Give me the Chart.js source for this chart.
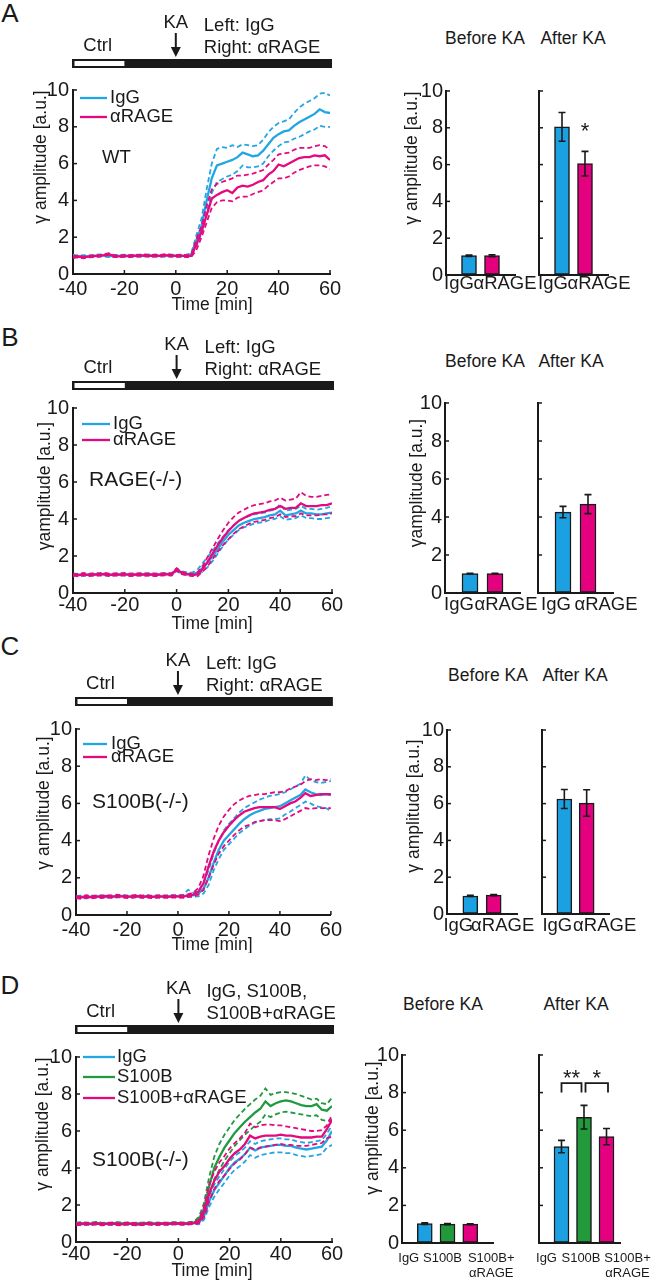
<!DOCTYPE html>
<html><head><meta charset="utf-8">
<script src="https://cdn.jsdelivr.net/npm/chart.js@4.4.1/dist/chart.umd.min.js"></script>
<style>
html,body{margin:0;padding:0;background:#fff;}
body{width:656px;height:1280px;position:relative;overflow:hidden;font-family:"Liberation Sans",Arial,Helvetica,sans-serif;color:#1a1a1a;}
canvas{position:absolute;}
.t{position:absolute;transform:translate(-50%,-50%);white-space:nowrap;line-height:1;}
.L{font-size:26px;}
.h{font-size:17.5px;}
</style></head><body>
<div class="t L" style="left:10px;top:13px">A</div>
<div class="t L" style="left:10px;top:337px">B</div>
<div class="t L" style="left:10px;top:646px">C</div>
<div class="t L" style="left:10px;top:985px">D</div>
<div class="t h" style="left:485px;top:39px">Before KA</div>
<div class="t h" style="left:573px;top:39px">After KA</div>
<div class="t h" style="left:485px;top:362px">Before KA</div>
<div class="t h" style="left:571px;top:362px">After KA</div>
<div class="t h" style="left:488px;top:676px">Before KA</div>
<div class="t h" style="left:575px;top:676px">After KA</div>
<div class="t h" style="left:443px;top:1005px">Before KA</div>
<div class="t h" style="left:576px;top:1005px">After KA</div>
<script>
// ---------- shared axes / timeline ----------
const timeMin = [-40,-38,-36,-34,-32,-30,-28,-26,-24,-22,-20,-18,-16,-14,-12,-10,-8,-6,-4,-2,0,2,4,6,8,10,12,14,16,18,20,22,24,26,28,30,32,34,36,38,40,42,44,46,48,50,52,54,56,58,60];
const timeTicks = [-40,-20,0,20,40,60];
const ampTicks = [0,2,4,6,8,10];
const ctrlWindow = [-40,-20];
const kaTime = 0;
const recordEnd = 60;

// ---------- Panel A (WT) ----------
const A_IgG_mean = [1.00,0.95,0.97,0.96,0.98,1.02,1.00,0.97,0.98,0.99,1.00,0.98,0.99,1.00,0.99,1.01,1.00,0.98,1.00,1.00,1.00,0.98,1.00,1.05,
  1.8,2.6,4.0,5.2,5.9,6.0,6.1,6.2,6.35,6.6,6.5,6.4,6.45,6.7,7.05,7.4,7.6,7.75,7.8,8.05,8.25,8.4,8.55,8.7,8.95,8.8,8.75];
const A_IgG_upper = [1.05,1.00,1.02,1.01,1.03,1.07,1.05,1.02,1.03,1.04,1.05,1.03,1.04,1.05,1.04,1.06,1.05,1.03,1.05,1.05,1.05,1.03,1.05,1.12,
  2.1,3.0,4.6,6.0,6.8,6.9,6.85,7.0,6.9,7.05,7.0,6.95,7.0,7.3,7.7,8.0,8.2,8.3,8.4,8.75,9.05,9.25,9.4,9.55,9.8,9.85,9.7];
const A_IgG_lower = [0.95,0.90,0.92,0.91,0.93,0.97,0.95,0.92,0.93,0.94,0.95,0.93,0.94,0.95,0.94,0.96,0.95,0.93,0.95,0.95,0.95,0.93,0.95,0.98,
  1.5,2.2,3.4,4.4,5.0,5.15,5.3,5.4,5.6,5.9,5.8,5.8,5.85,6.0,6.4,6.7,6.95,7.15,7.2,7.35,7.45,7.6,7.75,7.85,8.05,8.0,8.0];
const A_aRAGE_mean = [0.92,0.95,0.90,0.95,0.97,0.98,1.02,1.08,0.97,0.96,0.98,0.97,1.00,0.99,1.02,0.98,1.00,0.99,1.03,1.00,0.98,1.00,0.97,0.98,
  1.6,2.3,3.2,4.1,4.3,4.45,4.55,4.4,4.7,4.8,4.75,4.85,5.0,5.1,5.4,5.6,5.95,5.85,6.0,6.15,6.3,6.35,6.35,6.45,6.4,6.45,6.2];
const A_aRAGE_upper = [0.97,1.00,0.95,1.00,1.02,1.03,1.07,1.13,1.02,1.01,1.03,1.02,1.05,1.04,1.07,1.03,1.05,1.04,1.08,1.05,1.03,1.05,1.02,1.05,
  1.9,2.6,3.7,4.6,4.9,5.0,5.1,5.2,5.35,5.35,5.4,5.45,5.55,5.65,5.95,6.2,6.5,6.55,6.6,6.75,6.85,6.85,6.85,6.95,7.0,6.95,6.75];
const A_aRAGE_lower = [0.87,0.90,0.85,0.90,0.92,0.93,0.97,1.03,0.92,0.91,0.93,0.92,0.95,0.94,0.97,0.93,0.95,0.94,0.98,0.95,0.93,0.95,0.92,0.92,
  1.3,2.0,2.8,3.6,3.9,4.0,4.0,3.95,4.15,4.2,4.2,4.35,4.45,4.55,4.8,5.0,5.2,5.2,5.3,5.5,5.65,5.75,5.85,5.9,5.9,5.85,5.7];
const A_labels = ['IgG','αRAGE'];
const A_before = [1.05,1.05];
const A_beforeErr = [0.04,0.05];
const A_after = [8.05,6.05];
const A_afterErr = [0.78,0.67];

// ---------- Panel B (RAGE-/-) ----------
const B_IgG_mean = [0.98,1.00,0.97,1.00,0.99,1.02,1.00,0.98,1.00,1.01,0.99,1.00,0.98,1.00,1.02,1.00,0.99,1.01,1.03,1.00,1.25,1.10,1.05,1.02,
  1.1,1.35,1.65,2.0,2.4,2.8,3.15,3.4,3.65,3.8,3.9,4.0,4.05,4.1,4.2,4.25,4.45,4.2,4.25,4.3,4.45,4.3,4.3,4.25,4.25,4.3,4.35];
const B_IgG_upper = [1.03,1.05,1.02,1.05,1.04,1.07,1.05,1.03,1.05,1.06,1.04,1.05,1.03,1.05,1.07,1.05,1.04,1.06,1.08,1.06,1.32,1.18,1.12,1.10,
  1.25,1.6,1.95,2.3,2.7,3.05,3.4,3.65,3.9,4.05,4.15,4.25,4.3,4.35,4.45,4.5,4.8,4.45,4.5,4.55,4.7,4.55,4.55,4.5,4.55,4.6,4.7];
const B_IgG_lower = [0.93,0.95,0.92,0.95,0.94,0.97,0.95,0.93,0.95,0.96,0.94,0.95,0.93,0.95,0.97,0.95,0.94,0.96,0.98,0.95,1.18,1.03,0.98,0.96,
  1.0,1.15,1.4,1.75,2.15,2.55,2.9,3.15,3.4,3.55,3.65,3.75,3.8,3.85,3.95,4.0,4.15,3.95,4.0,4.05,4.2,4.05,4.05,4.0,4.0,4.05,4.1];
const B_aRAGE_mean = [1.00,0.95,1.02,0.97,1.00,1.00,1.03,0.98,1.00,0.99,1.02,0.98,1.00,1.01,0.99,1.00,0.98,1.00,1.02,1.00,1.28,1.08,1.02,0.97,
  1.0,1.3,1.7,2.15,2.6,3.0,3.35,3.65,3.9,4.05,4.2,4.3,4.35,4.4,4.5,4.55,4.7,4.55,4.6,4.6,4.85,4.7,4.7,4.7,4.75,4.75,4.85];
const B_aRAGE_upper = [1.06,1.01,1.08,1.03,1.06,1.06,1.09,1.04,1.06,1.05,1.08,1.04,1.06,1.07,1.05,1.06,1.04,1.06,1.08,1.06,1.34,1.14,1.08,1.03,
  1.1,1.45,1.95,2.45,2.95,3.4,3.8,4.1,4.35,4.5,4.65,4.75,4.8,4.85,4.95,5.0,5.15,5.0,5.05,5.1,5.45,5.25,5.2,5.2,5.25,5.3,5.35];
const B_aRAGE_lower = [0.94,0.89,0.96,0.91,0.94,0.94,0.97,0.92,0.94,0.93,0.96,0.92,0.94,0.95,0.93,0.94,0.92,0.94,0.96,0.94,1.22,1.02,0.96,0.91,
  0.9,1.15,1.45,1.85,2.25,2.6,2.9,3.2,3.45,3.6,3.75,3.85,3.9,3.95,4.05,4.1,4.25,4.1,4.15,4.15,4.3,4.2,4.2,4.2,4.25,4.25,4.3];
const B_labels = ['IgG','αRAGE'];
const B_before = [1.02,1.02];
const B_beforeErr = [0.02,0.02];
const B_after = [4.26,4.68];
const B_afterErr = [0.30,0.50];

// ---------- Panel C (S100B-/-) ----------
const C_IgG_mean = [0.95,1.00,0.93,1.00,0.97,1.02,0.96,1.00,0.98,1.03,1.00,0.97,1.00,0.98,1.02,0.97,1.00,0.98,1.00,1.02,1.00,1.02,1.05,1.05,
  1.15,1.4,2.0,2.8,3.5,4.0,4.3,4.6,4.9,5.15,5.35,5.5,5.6,5.7,5.75,5.8,5.85,6.0,6.15,6.3,6.45,6.75,6.6,6.5,6.45,6.5,6.45];
const C_IgG_upper = [1.00,1.05,0.98,1.05,1.02,1.07,1.01,1.05,1.03,1.08,1.05,1.02,1.05,1.03,1.07,1.02,1.05,1.03,1.05,1.07,1.05,1.10,1.35,1.20,
  1.3,1.7,2.4,3.3,4.0,4.55,4.9,5.2,5.5,5.75,5.9,6.05,6.2,6.3,6.4,6.45,6.5,6.6,6.75,6.9,7.05,7.5,7.25,7.15,7.1,7.15,7.2];
const C_IgG_lower = [0.90,0.95,0.88,0.95,0.92,0.97,0.91,0.95,0.93,0.98,0.95,0.92,0.95,0.93,0.97,0.92,0.95,0.93,0.95,0.97,0.95,0.96,0.98,0.98,
  1.0,1.15,1.6,2.4,3.0,3.5,3.8,4.1,4.4,4.6,4.8,4.95,5.05,5.1,5.15,5.15,5.2,5.4,5.55,5.75,5.9,6.1,6.0,5.85,5.8,5.75,5.6];
const C_aRAGE_mean = [0.97,0.93,1.00,0.95,1.00,0.97,1.02,0.98,1.03,1.00,0.97,1.00,1.02,0.98,1.00,0.97,1.00,1.00,0.98,1.00,1.00,0.98,1.05,1.10,
  1.25,1.7,2.6,3.4,4.0,4.45,4.8,5.1,5.35,5.55,5.65,5.75,5.8,5.8,5.8,5.8,5.7,5.85,6.0,6.1,6.3,6.55,6.4,6.45,6.5,6.5,6.5];
const C_aRAGE_upper = [1.03,0.99,1.06,1.01,1.06,1.03,1.08,1.04,1.09,1.06,1.03,1.06,1.08,1.04,1.06,1.03,1.06,1.06,1.04,1.06,1.06,1.05,1.12,1.20,
  1.45,2.1,3.2,4.1,4.8,5.3,5.65,5.95,6.15,6.3,6.4,6.45,6.5,6.5,6.55,6.6,6.6,6.65,6.8,6.9,7.0,7.2,7.3,7.25,7.3,7.25,7.3];
const C_aRAGE_lower = [0.91,0.87,0.94,0.89,0.94,0.91,0.96,0.92,0.97,0.94,0.91,0.94,0.96,0.92,0.94,0.91,0.94,0.94,0.92,0.94,0.94,0.92,0.98,1.00,
  1.1,1.35,2.0,2.7,3.3,3.7,4.0,4.3,4.55,4.75,4.85,5.0,5.05,5.1,5.1,5.1,5.05,5.15,5.3,5.45,5.6,5.75,5.7,5.75,5.75,5.75,5.75];
const C_labels = ['IgG','αRAGE'];
const C_before = [0.98,1.03];
const C_beforeErr = [0.03,0.03];
const C_after = [6.25,6.03];
const C_afterErr = [0.52,0.72];

// ---------- Panel D (S100B-/-, S100B application) ----------
const D_IgG_mean = [1.00,0.95,1.00,0.97,1.02,0.98,1.00,0.97,1.00,0.98,1.00,0.97,0.95,0.98,1.00,0.97,1.00,1.00,0.98,1.00,1.02,1.00,1.00,1.02,
  1.05,1.4,2.2,2.8,3.2,3.6,4.0,4.3,4.5,4.75,5.1,4.95,5.1,5.15,5.2,5.25,5.25,5.2,5.2,5.1,5.05,5.0,5.05,5.1,5.15,5.5,6.0];
const D_IgG_upper = [1.05,1.00,1.05,1.02,1.07,1.03,1.05,1.02,1.05,1.03,1.05,1.02,1.00,1.03,1.05,1.02,1.05,1.05,1.03,1.05,1.07,1.05,1.05,1.07,
  1.15,1.6,2.5,3.1,3.55,3.95,4.35,4.65,4.85,5.1,5.45,5.3,5.45,5.5,5.55,5.6,5.6,5.55,5.55,5.45,5.4,5.35,5.4,5.45,5.5,5.85,6.3];
const D_IgG_lower = [0.95,0.90,0.95,0.92,0.97,0.93,0.95,0.92,0.95,0.93,0.95,0.92,0.90,0.93,0.95,0.92,0.95,0.95,0.93,0.95,0.97,0.95,0.95,0.97,
  0.95,1.2,1.9,2.45,2.85,3.2,3.6,3.9,4.1,4.35,4.7,4.55,4.7,4.75,4.8,4.85,4.85,4.8,4.8,4.7,4.65,4.6,4.65,4.7,4.75,5.1,5.25];
const D_S100B_mean = [1.00,1.02,0.98,1.00,1.03,1.00,0.98,1.00,1.02,1.00,1.00,0.98,1.00,1.00,1.02,1.00,1.00,0.98,1.00,1.02,1.00,1.00,1.02,1.05,
  1.2,1.8,3.0,4.0,4.6,5.1,5.5,5.9,6.2,6.5,6.75,7.0,7.2,7.6,7.35,7.5,7.6,7.65,7.6,7.5,7.4,7.35,7.35,7.45,7.15,7.1,7.35];
const D_S100B_upper = [1.05,1.07,1.03,1.05,1.08,1.05,1.03,1.05,1.07,1.05,1.05,1.03,1.05,1.05,1.07,1.05,1.05,1.03,1.05,1.07,1.05,1.05,1.07,1.10,
  1.35,2.1,3.5,4.6,5.3,5.8,6.2,6.6,6.9,7.2,7.45,7.7,7.9,8.3,7.95,8.05,8.1,8.1,8.05,8.0,7.9,7.8,7.7,7.75,7.5,7.45,7.8];
const D_S100B_lower = [0.95,0.97,0.93,0.95,0.98,0.95,0.93,0.95,0.97,0.95,0.95,0.93,0.95,0.95,0.97,0.95,0.95,0.93,0.95,0.97,0.95,0.95,0.97,1.00,
  1.05,1.5,2.5,3.4,3.9,4.4,4.8,5.2,5.5,5.8,6.05,6.3,6.5,6.9,6.75,6.9,7.0,7.05,7.0,6.95,6.9,6.85,6.8,6.85,6.6,6.55,6.6];
const D_S100BaRAGE_mean = [0.95,0.98,1.00,0.97,1.00,0.95,0.98,1.00,0.97,0.95,1.00,0.98,0.95,0.97,1.00,0.98,0.97,1.00,0.98,1.00,1.00,0.98,1.00,1.02,
  1.1,1.6,2.6,3.3,3.8,4.1,4.5,4.8,5.0,5.3,5.75,5.6,5.7,5.75,5.75,5.75,5.8,5.75,5.75,5.7,5.65,5.65,5.65,5.7,5.7,6.1,6.6];
const D_S100BaRAGE_upper = [1.00,1.03,1.05,1.02,1.05,1.00,1.03,1.05,1.02,1.00,1.05,1.03,1.00,1.02,1.05,1.03,1.02,1.05,1.03,1.05,1.05,1.03,1.05,1.07,
  1.2,1.9,3.1,3.8,4.3,4.65,5.05,5.35,5.6,5.9,6.4,6.2,6.3,6.35,6.35,6.3,6.3,6.25,6.2,6.15,6.1,6.05,6.0,6.0,6.05,6.3,6.85];
const D_S100BaRAGE_lower = [0.90,0.93,0.95,0.92,0.95,0.90,0.93,0.95,0.92,0.90,0.95,0.93,0.90,0.92,0.95,0.93,0.92,0.95,0.93,0.95,0.95,0.93,0.95,0.97,
  1.0,1.35,2.2,2.85,3.3,3.6,3.95,4.25,4.45,4.75,5.1,5.0,5.1,5.15,5.2,5.25,5.3,5.25,5.25,5.2,5.2,5.2,5.25,5.3,5.35,5.6,5.7];
const D_labels = ['IgG','S100B','S100B+\nαRAGE'];
const D_before = [1.03,1.00,1.00];
const D_beforeErr = [0.04,0.03,0.02];
const D_after = [5.13,6.69,5.66];
const D_afterErr = [0.33,0.63,0.43];

// ---------- styling ----------
const INK = '#1a1a1a';
const FONT = '"Liberation Sans", Arial, Helvetica, sans-serif';
const TICK = 20;
const LINE = {IgG:'#22a6e3', RAGE:'#e5097f', S100B:'#1f9a40'};
const FILL = {IgG:'#1ba1e2', RAGE:'#e4007f', S100B:'#229a3c'};
Chart.defaults.font.family = FONT;
Chart.defaults.font.size = 18;
Chart.defaults.color = INK;

function mkCanvas(x, y, w, h) {
  const c = document.createElement('canvas');
  c.width = w; c.height = h;
  c.style.left = x + 'px'; c.style.top = y + 'px';
  c.style.width = w + 'px'; c.style.height = h + 'px';
  document.body.appendChild(c);
  return c;
}
function txt(ctx, s, x, y, size, align, base) {
  ctx.save();
  ctx.font = size + 'px ' + FONT;
  ctx.fillStyle = INK;
  ctx.textAlign = align || 'left';
  ctx.textBaseline = base || 'middle';
  ctx.fillText(s, x, y);
  ctx.restore();
}
function vtxt(ctx, s, x, y, size) {
  ctx.save(); ctx.translate(x, y); ctx.rotate(-Math.PI / 2);
  txt(ctx, s, 0, 0, size, 'center'); ctx.restore();
}
function inwardTicks(chart, axes) {
  const ctx = chart.ctx, a = chart.chartArea;
  ctx.save(); ctx.strokeStyle = INK; ctx.lineWidth = 1.5;
  if (axes.indexOf('x') >= 0) {
    const s = chart.scales.x;
    s.ticks.forEach(t => { const p = s.getPixelForValue(t.value);
      ctx.beginPath(); ctx.moveTo(p, a.bottom); ctx.lineTo(p, a.bottom - 4); ctx.stroke(); });
  }
  if (axes.indexOf('y') >= 0) {
    const s = chart.scales.y;
    s.ticks.forEach(t => { const p = s.getPixelForValue(t.value);
      ctx.beginPath(); ctx.moveTo(a.left, p); ctx.lineTo(a.left + 4, p); ctx.stroke(); });
  }
  ctx.restore();
}
function axisBase(extra) {
  return Object.assign({
    grid: {drawOnChartArea: false, drawTicks: false},
    border: {color: INK, width: 2}
  }, extra);
}

// ---------- line chart panel ----------
function lineChart(cfg) {
  const [cx, cy, cw, ch] = cfg.box;
  const [L, T, R, B] = cfg.area;
  const canvas = mkCanvas(cx, cy, cw, ch);
  const datasets = [];
  const pts = arr => arr.map((v, i) => ({x: timeMin[i], y: v}));
  cfg.series.forEach((s, k) => {
    const base = {borderColor: s.color, pointRadius: 0, tension: 0, fill: false};
    datasets.push(Object.assign({}, base, {data: pts(s.upper), borderWidth: 1.8, borderDash: [5, 3], order: 100 - 3 * k}));
    datasets.push(Object.assign({}, base, {data: pts(s.lower), borderWidth: 1.8, borderDash: [5, 3], order: 100 - 3 * k}));
    datasets.push(Object.assign({}, base, {data: pts(s.mean), borderWidth: 2.3, order: 99 - 3 * k, label: s.label}));
  });
  new Chart(canvas, {
    type: 'line',
    data: {datasets},
    options: {
      responsive: false, animation: false, devicePixelRatio: 1,
      layout: {padding: {left: 0, top: T - cy, right: cx + cw - R, bottom: 0}},
      plugins: {legend: {display: false}, tooltip: {enabled: false}},
      scales: {
        x: axisBase({type: 'linear', min: timeTicks[0], max: timeTicks[timeTicks.length - 1], offset: false,
          afterBuildTicks: s => { s.ticks = timeTicks.map(v => ({value: v})); },
          ticks: {padding: cfg.xPad, font: {size: TICK}, color: INK, callback: v => String(v)},
          afterFit: s => { s.height = cy + ch - B; }}),
        y: axisBase({type: 'linear', min: 0, max: 10,
          afterBuildTicks: s => { s.ticks = ampTicks.map(v => ({value: v})); },
          ticks: {padding: 4, font: {size: TICK}, color: INK, callback: v => String(v)},
          afterFit: s => { s.width = L - cx; }})
      }
    },
    plugins: [{id: 'lineDeco', afterDraw: chart => {
      const ctx = chart.ctx, xs = chart.scales.x;
      inwardTicks(chart, 'xy');
      // legend
      cfg.series.forEach((s, k) => {
        const y = cfg.legend.rows[k] - cy;
        ctx.save(); ctx.strokeStyle = s.color; ctx.lineWidth = 2.3;
        ctx.beginPath(); ctx.moveTo(cfg.legend.x0 - cx, y); ctx.lineTo(cfg.legend.x1 - cx, y); ctx.stroke(); ctx.restore();
        txt(ctx, s.label, cfg.legend.tx - cx, y, 18.5);
      });
      txt(ctx, cfg.geno[0], cfg.geno[1] - cx, cfg.geno[2] - cy, cfg.geno[3]);
      vtxt(ctx, cfg.yTitle[2], cfg.yTitle[0] - cx, cfg.yTitle[1] - cy, 17.5);
      txt(ctx, 'Time [min]', cfg.xTitle[0] - cx, cfg.xTitle[1] - cy, 17.5, 'center');
      // timeline bar
      const bt = cfg.barTop - cy, bh = 9;
      const xa = xs.getPixelForValue(ctrlWindow[0]), xb = xs.getPixelForValue(ctrlWindow[1]);
      const xe = xs.getPixelForValue(recordEnd), xk = xs.getPixelForValue(kaTime);
      ctx.save();
      ctx.fillStyle = INK; ctx.fillRect(xa - 1, bt, xe - xa + 3, bh);
      ctx.fillStyle = '#fff'; ctx.fillRect(xa + 1.5, bt + 2, xb - xa - 1.5, bh - 4);
      // KA arrow
      ctx.strokeStyle = INK; ctx.lineWidth = 2;
      ctx.beginPath(); ctx.moveTo(xk, bt - 26); ctx.lineTo(xk, bt - 10); ctx.stroke();
      ctx.fillStyle = INK; ctx.beginPath(); ctx.moveTo(xk - 5, bt - 12); ctx.lineTo(xk + 5, bt - 12); ctx.lineTo(xk, bt - 2); ctx.closePath(); ctx.fill();
      ctx.restore();
      txt(ctx, 'KA', xk, bt - 36, 18.5, 'center');
      txt(ctx, 'Ctrl', (xa + xb) / 2 - 1, bt - 13, 18.5, 'center');
      cfg.condition.forEach((s, i) => txt(ctx, s, xk + 28, bt + [-33, -11][i], 18.5));
    }}]
  });
}

// ---------- bar chart ----------
function barChart(cfg) {
  const [cx, cy, cw, ch] = cfg.box;
  const [L, T, R, B] = cfg.area;
  const canvas = mkCanvas(cx, cy, cw, ch);
  new Chart(canvas, {
    type: 'bar',
    data: {datasets: [{
      data: cfg.values.map((v, i) => ({x: i + 1, y: v})),
      backgroundColor: cfg.colors, borderColor: INK, borderWidth: 1.5, borderSkipped: false,
      barThickness: cfg.barW
    }]},
    options: {
      responsive: false, animation: false, devicePixelRatio: 1,
      layout: {padding: {left: 0, top: T - cy, right: cx + cw - R, bottom: 0}},
      plugins: {legend: {display: false}, tooltip: {enabled: false}},
      scales: {
        x: axisBase({type: 'linear', min: 0, max: cfg.xMax, offset: false,
          ticks: {display: false}, afterFit: s => { s.height = cy + ch - B; }}),
        y: axisBase({type: 'linear', min: 0, max: 10, beginAtZero: true,
          afterBuildTicks: s => { s.ticks = ampTicks.map(v => ({value: v})); },
          ticks: {display: cfg.yLabels, padding: 3, font: {size: TICK}, color: INK, callback: v => String(v)},
          afterFit: s => { s.width = L - cx; }})
      }
    },
    plugins: [{id: 'barDeco', afterDraw: chart => {
      const ctx = chart.ctx, ys = chart.scales.y, xs = chart.scales.x;
      inwardTicks(chart, 'y');
      const meta = chart.getDatasetMeta(0);
      ctx.save(); ctx.strokeStyle = INK; ctx.lineWidth = 1.6;
      cfg.errors.forEach((e, i) => {
        const x = meta.data[i].x, v = cfg.values[i];
        const y1 = ys.getPixelForValue(v + e), y2 = ys.getPixelForValue(v - e);
        ctx.beginPath();
        ctx.moveTo(x, y1); ctx.lineTo(x, y2);
        ctx.moveTo(x - 3.5, y1); ctx.lineTo(x + 3.5, y1);
        ctx.moveTo(x - 3.5, y2); ctx.lineTo(x + 3.5, y2);
        ctx.stroke();
      });
      ctx.restore();
      cfg.labels.forEach((lab, i) => {
        const x = xs.getPixelForValue(i + 1) + cfg.labelDx[i];
        lab.split('\n').forEach((line, j) => txt(ctx, line, x, cfg.labelY - cy + j * cfg.labelLH, cfg.labelSize, 'center'));
      });
      if (cfg.yTitle) vtxt(ctx, cfg.yTitle[2], cfg.yTitle[0] - cx, cfg.yTitle[1] - cy, 17.5);
      (cfg.sig || []).forEach(s => {
        const size = 22;
        if (s.to === undefined) {
          const x = xs.getPixelForValue(s.from + 1);
          txt(ctx, s.text, x, ys.getPixelForValue(s.textY) + 0.57 * size, size, 'center', 'alphabetic');
        } else {
          const xa = xs.getPixelForValue(s.from + 1) + s.dx[0], xb = xs.getPixelForValue(s.to + 1) + s.dx[1];
          const yt = ys.getPixelForValue(s.y), yl = ys.getPixelForValue(s.leg);
          ctx.save(); ctx.strokeStyle = INK; ctx.lineWidth = 1.8;
          ctx.beginPath(); ctx.moveTo(xa, yl); ctx.lineTo(xa, yt); ctx.lineTo(xb, yt); ctx.lineTo(xb, yl); ctx.stroke(); ctx.restore();
          txt(ctx, s.text, (xa + xb) / 2, ys.getPixelForValue(s.textY) + 0.57 * size, size, 'center', 'alphabetic');
        }
      });
    }}]
  });
}

// ---------- build panels ----------
lineChart({box: [0, 0, 345, 315], area: [73, 90, 330, 274], xPad: 3, xTitle: [212, 305], barTop: 59,
  series: [{label: 'IgG', color: LINE.IgG, mean: A_IgG_mean, upper: A_IgG_upper, lower: A_IgG_lower},
           {label: 'αRAGE', color: LINE.RAGE, mean: A_aRAGE_mean, upper: A_aRAGE_upper, lower: A_aRAGE_lower}],
  legend: {rows: [98, 117], x0: 80, x1: 107, tx: 110}, geno: ['WT', 102, 158, 18.5],
  yTitle: [41.5, 157, 'γ amplitude [a.u.]'], condition: ['Left: IgG', 'Right: αRAGE']});
lineChart({box: [0, 318, 345, 316], area: [73, 408, 332, 593], xPad: 0, xTitle: [212, 624], barTop: 381,
  series: [{label: 'IgG', color: LINE.IgG, mean: B_IgG_mean, upper: B_IgG_upper, lower: B_IgG_lower},
           {label: 'αRAGE', color: LINE.RAGE, mean: B_aRAGE_mean, upper: B_aRAGE_upper, lower: B_aRAGE_lower}],
  legend: {rows: [424, 440], x0: 82, x1: 110, tx: 113}, geno: ['RAGE(-/-)', 89, 480, 21],
  yTitle: [45, 486, 'γamplitude [a.u.]'], condition: ['Left: IgG', 'Right: αRAGE']});
lineChart({box: [0, 630, 345, 323], area: [76, 729, 332, 915], xPad: 3, xTitle: [212, 945], barTop: 697,
  series: [{label: 'IgG', color: LINE.IgG, mean: C_IgG_mean, upper: C_IgG_upper, lower: C_IgG_lower},
           {label: 'αRAGE', color: LINE.RAGE, mean: C_aRAGE_mean, upper: C_aRAGE_upper, lower: C_aRAGE_lower}],
  legend: {rows: [744, 757], x0: 83, x1: 107, tx: 111}, geno: ['S100B(-/-)', 92, 802, 21],
  yTitle: [44, 803, 'γ amplitude [a.u.]'], condition: ['Left: IgG', 'Right: αRAGE']});
lineChart({box: [0, 965, 345, 315], area: [76, 1057, 332, 1242], xPad: 0, xTitle: [212, 1271], barTop: 1025,
  series: [{label: 'IgG', color: LINE.IgG, mean: D_IgG_mean, upper: D_IgG_upper, lower: D_IgG_lower},
           {label: 'S100B', color: LINE.S100B, mean: D_S100B_mean, upper: D_S100B_upper, lower: D_S100B_lower},
           {label: 'S100B+αRAGE', color: LINE.RAGE, mean: D_S100BaRAGE_mean, upper: D_S100BaRAGE_upper, lower: D_S100BaRAGE_lower}],
  legend: {rows: [1057, 1077, 1098], x0: 83, x1: 115, tx: 117}, geno: ['S100B(-/-)', 92, 1160, 21],
  yTitle: [43, 1124, 'γ amplitude [a.u.]'], condition: ['IgG, S100B,', 'S100B+αRAGE']});

const two = [FILL.IgG, FILL.RAGE];
const three = [FILL.IgG, FILL.S100B, FILL.RAGE];
// A
barChart({box: [380, 20, 170, 290], area: [446, 91, 515, 275], xMax: 3, barW: 15, values: A_before, errors: A_beforeErr, colors: two,
  yLabels: true, labels: A_labels, labelDx: [-10, 13], labelY: 284, labelLH: 16, labelSize: 18.5, yTitle: [412, 158, 'γ amplitude [a.u.]']});
barChart({box: [520, 20, 136, 290], area: [539, 91, 608, 275], xMax: 3, barW: 15, values: A_after, errors: A_afterErr, colors: two,
  yLabels: false, labels: A_labels, labelDx: [-9, 14], labelY: 284, labelLH: 16, labelSize: 18.5,
  sig: [{from: 1, text: '*', textY: 8.15}]});
// B
barChart({box: [380, 340, 170, 290], area: [445, 403, 520, 593], xMax: 3, barW: 16, values: B_before, errors: B_beforeErr, colors: two,
  yLabels: true, labels: B_labels, labelDx: [-11, 11], labelY: 605, labelLH: 16, labelSize: 18.5, yTitle: [417, 483, 'γamplitude [a.u.]']});
barChart({box: [520, 340, 136, 290], area: [538, 403, 613, 593], xMax: 3, barW: 16, values: B_after, errors: B_afterErr, colors: two,
  yLabels: false, labels: B_labels, labelDx: [-7, 18], labelY: 605, labelLH: 16, labelSize: 18.5});
// C
barChart({box: [380, 660, 170, 285], area: [447, 730, 517, 914], xMax: 3, barW: 15, values: C_before, errors: C_beforeErr, colors: two,
  yLabels: true, labels: C_labels, labelDx: [-12, 9], labelY: 926, labelLH: 16, labelSize: 18.5, yTitle: [414, 806, 'γ amplitude [a.u.]']});
barChart({box: [520, 660, 136, 285], area: [542, 730, 609, 914], xMax: 3, barW: 15, values: C_after, errors: C_afterErr, colors: two,
  yLabels: false, labels: C_labels, labelDx: [-7, 18], labelY: 926, labelLH: 16, labelSize: 18.5});
// D
barChart({box: [355, 985, 180, 295], area: [402, 1055, 493, 1243], xMax: 4, barW: 15, values: D_before, errors: D_beforeErr, colors: three,
  yLabels: true, labels: D_labels, labelDx: [-16, -5, 21], labelY: 1258, labelLH: 15.5, labelSize: 13, yTitle: [373, 1128, 'γ amplitude [a.u.]']});
barChart({box: [520, 985, 136, 295], area: [539, 1055, 620, 1243], xMax: 3.6, barW: 15, values: D_after, errors: D_afterErr, colors: three,
  yLabels: false, labels: D_labels, labelDx: [-15, -3, 21], labelY: 1258, labelLH: 15.5, labelSize: 13,
  sig: [{from: 0, to: 1, dx: [0, -2.5], y: 8.5, leg: 8.0, text: '**', textY: 9.07},
        {from: 1, to: 2, dx: [1.5, 1.5], y: 8.5, leg: 8.0, text: '*', textY: 9.07}]});
</script>
</body></html>
